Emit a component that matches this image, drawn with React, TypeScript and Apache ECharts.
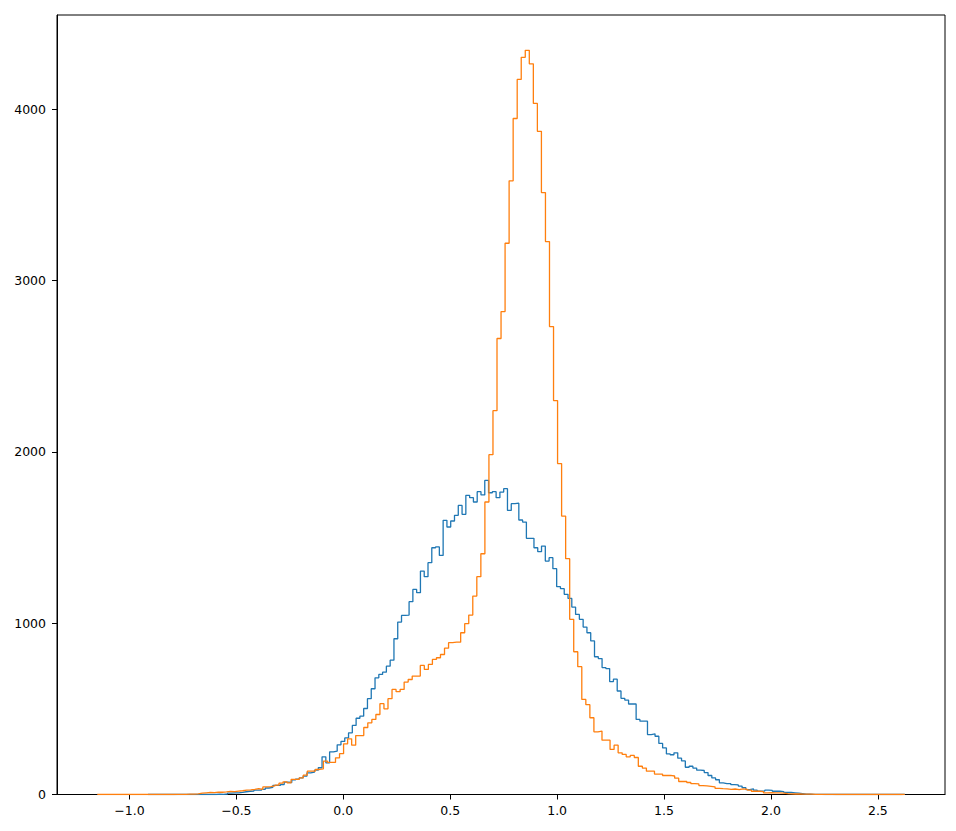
import React, { useEffect, useRef } from "react";
import * as echarts from "echarts";

// Histogram bin ranges (200 bins each)
const blueRange = [-0.9135, 2.626];
const orangeRange = [-1.1506, 2.626];

const blueCounts = [
  1, 0, 0, 0, 0, 0, 0, 0, 0, 0,
  0, 0, 0, 1, 0, 0, 1, 0, 2, 1,
  3, 8, 10, 10, 12, 16, 19, 20, 25, 25,
  30, 38, 42, 53, 53, 58, 72, 70, 85, 90,
  97, 107, 126, 130, 142, 156, 220, 185, 249, 253,
  290, 310, 330, 360, 403, 445, 457, 502, 559, 617,
  681, 701, 714, 749, 784, 909, 1006, 1045, 1047, 1125,
  1197, 1178, 1304, 1271, 1353, 1440, 1445, 1395, 1600, 1561,
  1596, 1629, 1687, 1635, 1746, 1732, 1707, 1767, 1748, 1833,
  1761, 1767, 1732, 1765, 1785, 1658, 1697, 1700, 1602, 1590,
  1495, 1495, 1440, 1417, 1450, 1362, 1382, 1318, 1213, 1201,
  1168, 1144, 1094, 1051, 1022, 977, 944, 896, 804, 793,
  741, 735, 659, 673, 604, 561, 551, 528, 528, 438,
  428, 428, 350, 354, 340, 298, 272, 237, 232, 243,
  212, 196, 159, 165, 154, 142, 140, 128, 111, 97,
  86, 68, 64, 64, 58, 56, 49, 40, 29, 33,
  25, 20, 20, 25, 24, 19, 19, 17, 12, 12,
  10, 8, 5, 2, 2, 1, 1, 1, 0, 1,
  0, 0, 0, 1, 0, 0, 0, 0, 0, 0,
  0, 0, 0, 0, 0, 0, 0, 0, 0, 1,
];

const orangeCounts = [
  1, 0, 0, 0, 0, 0, 0, 0, 0, 0,
  0, 0, 0, 0, 0, 0, 1, 0, 0, 1,
  1, 1, 2, 2, 4, 8, 10, 12, 11, 14,
  13, 15, 18, 17, 20, 22, 25, 27, 30, 34,
  30, 44, 46, 50, 55, 66, 74, 68, 88, 88,
  97, 113, 136, 136, 146, 150, 195, 187, 187, 214,
  238, 296, 325, 288, 344, 344, 391, 418, 438, 467,
  530, 500, 559, 613, 600, 613, 656, 671, 691, 691,
  753, 730, 759, 788, 798, 817, 854, 886, 889, 889,
  944, 997, 1047, 1158, 1271, 1405, 1707, 1983, 2240, 2661,
  2818, 3217, 3581, 3945, 4173, 4302, 4343, 4264, 4033, 3870,
  3513, 3227, 2731, 2299, 1931, 1625, 1376, 1022, 833, 746,
  555, 524, 448, 366, 370, 317, 317, 263, 288, 243,
  234, 220, 228, 216, 165, 154, 136, 136, 119, 119,
  111, 111, 108, 95, 76, 76, 70, 64, 62, 52,
  50, 48, 45, 36, 34, 33, 30, 32, 29, 33,
  30, 25, 19, 19, 17, 10, 11, 9, 10, 8,
  5, 4, 3, 3, 2, 2, 2, 1, 1, 1,
  1, 1, 0, 1, 0, 0, 1, 0, 0, 0,
  1, 0, 0, 0, 0, 0, 0, 0, 0, 1,
];

const xTicks = [-1.0, -0.5, 0.0, 0.5, 1.0, 1.5, 2.0, 2.5];
const yTicks = [0, 1000, 2000, 3000, 4000];

function stepOutline(range: number[], counts: number[]) {
  const n = counts.length;
  const w = (range[1] - range[0]) / n;
  const pts: number[][] = [[range[0], 0]];
  for (let i = 0; i < n; i++) {
    const a = range[0] + i * w;
    const b = a + w;
    pts.push([a, counts[i]]);
    pts.push([b, counts[i]]);
  }
  pts.push([range[1], 0]);
  return pts;
}

const fmtX = (v: number) => {
  const s = Math.abs(v).toFixed(1);
  return v < 0 ? "\u2212" + s : s;
};

export default function App() {
  const ref = useRef<HTMLDivElement>(null);
  useEffect(() => {
    document.body.style.margin = "0";
    if (!ref.current) return;
    const chart = echarts.init(ref.current, null, { renderer: "svg" });
    const font = "DejaVu Sans";
    chart.setOption({
      animation: false,
      backgroundColor: "#ffffff",
      grid: {
        left: 57,
        right: 11,
        top: 15,
        bottom: 36.5,
        show: true,
        borderColor: "#000",
        borderWidth: 1,
        backgroundColor: "transparent",
      },
      xAxis: {
        type: "value",
        min: -1.339,
        max: 2.814,
        axisLine: { show: true, onZero: false, lineStyle: { color: "#000", width: 1 } },
        axisTick: { show: true, length: 5, lineStyle: { color: "#000" }, customValues: xTicks },
        axisLabel: {
          color: "#000",
          fontFamily: font,
          fontSize: 12.5,
          margin: 9,
          customValues: xTicks,
          formatter: fmtX,
        },
        splitLine: { show: false },
      },
      yAxis: {
        type: "value",
        min: 0,
        max: 4549,
        interval: 1000,
        axisLine: { show: true, onZero: false, lineStyle: { color: "#000", width: 1 } },
        axisTick: { show: true, length: 5, lineStyle: { color: "#000" }, customValues: yTicks },
        axisLabel: {
          color: "#000",
          fontFamily: font,
          fontSize: 12.5,
          margin: 11,
          customValues: yTicks,
          formatter: (v: number) => String(v),
        },
        splitLine: { show: false },
      },
      series: [
        {
          type: "line",
          data: stepOutline(blueRange, blueCounts),
          showSymbol: false,
          symbol: "none",
          lineStyle: { color: "#1f77b4", width: 1.3 },
          itemStyle: { color: "#1f77b4" },
          z: 2,
        },
        {
          type: "line",
          data: stepOutline(orangeRange, orangeCounts),
          showSymbol: false,
          symbol: "none",
          lineStyle: { color: "#ff7f0e", width: 1.3 },
          itemStyle: { color: "#ff7f0e" },
          z: 3,
        },
      ],
    });
    return () => chart.dispose();
  }, []);
  return <div ref={ref} style={{ width: 956, height: 831 }} />;
}
